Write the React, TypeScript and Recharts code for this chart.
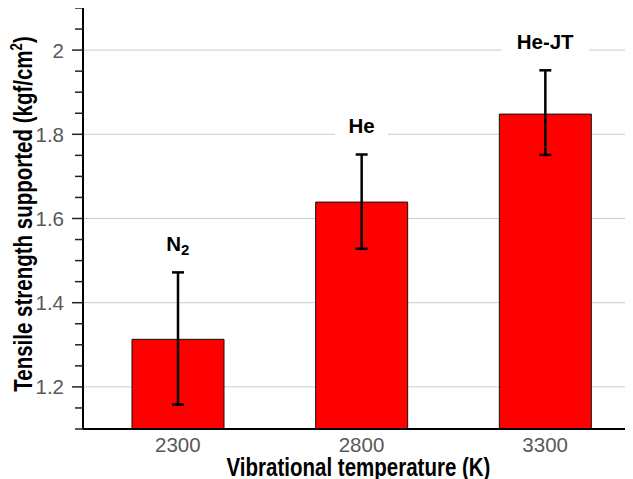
import React from 'react';
import { ComposedChart, Bar, Line, XAxis, YAxis, CartesianGrid, ErrorBar, LabelList, Label } from 'recharts';

const categories = ['2300', '2800', '3300'];
const gases = ['N2', 'He', 'He-JT'];
const strength = [1.313, 1.639, 1.848];
const errLow = [1.158, 1.528, 1.751];
const errHigh = [1.472, 1.752, 1.952];
const yTicks = [1.1, 1.15, 1.2, 1.25, 1.3, 1.35, 1.4, 1.45, 1.5, 1.55, 1.6, 1.65, 1.7, 1.75, 1.8, 1.85, 1.9, 1.95, 2.0, 2.05, 2.1];
const yMajor = [1.2, 1.4, 1.6, 1.8, 2.0];

const data = categories.map((c, i) => ({
  temp: c,
  gas: gases[i],
  value: strength[i],
  err: [strength[i] - errLow[i], errHigh[i] - strength[i]],
  hi: errHigh[i],
}));

const TICK_FONT = "'Liberation Sans', Arial, sans-serif";
const TITLE_FONT = "'Liberation Sans', Arial, sans-serif";
const NARROW = 0.82;

const YTick = (props: any) => {
  const { x, y, payload } = props;
  const v = payload.value;
  const major = yMajor.some((t) => Math.abs(t - v) < 1e-6);
  const len = major ? 11 : 8;
  return (
    <g>
      <line x1={x - len} x2={x} y1={y} y2={y} stroke="#222" strokeWidth={1.5} />
      {major && (
        <text x={x - 19} y={y} dy={7.5} textAnchor="end" fill="#595959" fontSize={20.5} fontFamily={TICK_FONT}>
          {Number(v.toFixed(1)).toString()}
        </text>
      )}
    </g>
  );
};

const XTick = (props: any) => {
  const { x, y, payload } = props;
  return (
    <text x={x} y={y} dy={23} textAnchor="middle" fill="#595959" fontSize={20.5} fontFamily={TICK_FONT}>
      {payload.value}
    </text>
  );
};

const GasLabel = (props: any) => {
  const vb = props.viewBox || {};
  const x = props.x ?? vb.x;
  const y = props.y ?? vb.y;
  const value: string = String(props.value);
  const cy = y - 29;
  const w = 11.5 * value.length + 30;
  const isN2 = value === 'N2';
  return (
    <g>
      <rect x={x - w / 2} y={cy - 14} width={w} height={28} fill="#ffffff" />
      <text x={x} y={cy + 7.3} textAnchor="middle" fontWeight="bold" fontSize={20.5} fontFamily={TICK_FONT} fill="#000">
        {isN2 ? (
          <>
            N<tspan fontSize={15} dy={4}>2</tspan>
          </>
        ) : (
          value
        )}
      </text>
    </g>
  );
};

const XTitle = (props: any) => {
  const vb = props.viewBox;
  const cx = vb.x + vb.width / 2 - 3;
  return (
    <g transform={`translate(${cx}, 468) scale(${NARROW}, 1)`}>
      <text x={0} y={0} textAnchor="middle" fontWeight="bold" fontSize={25} fontFamily={TITLE_FONT} fill="#000">
        Vibrational temperature (K)
      </text>
    </g>
  );
};

const YTitle = () => {
  const x = 24;
  const y = 206;
  return (
    <g transform={`translate(${x}, ${y}) rotate(-90) scale(${NARROW}, 1)`}>
      <text x={0} y={0} textAnchor="middle" fontWeight="bold" fontSize={25} fontFamily={TITLE_FONT} fill="#000">
        Tensile strength supported (kgf/cm<tspan fontSize={16} dy={-10}>2</tspan><tspan dy={10}>)</tspan>
      </text>
    </g>
  );
};

export default function App() {
  return (
    <div style={{ width: 625, height: 471, overflow: 'hidden' }}>
      <ComposedChart width={632} height={471} data={data} margin={{ top: 0, right: 0, bottom: 0, left: 0 }}>
        <CartesianGrid horizontal vertical={false} horizontalValues={yMajor} stroke="#cccccc" strokeWidth={1} />
        <XAxis
          dataKey="temp"
          type="category"
          padding={{ left: 3, right: 3 }}
          height={50}
          axisLine={{ stroke: '#000', strokeWidth: 2 }}
          tickLine={false}
          tickSize={0}
          tickMargin={0}
          tick={<XTick />}
          interval={0}
        >
          <Label content={<XTitle />} />
        </XAxis>
        <YAxis
          type="number"
          domain={[1.1, 2.1]}
          ticks={yTicks}
          interval={0}
          width={75}
          allowDataOverflow
          axisLine={{ stroke: '#000', strokeWidth: 2 }}
          tickLine={false}
          tickSize={0}
          tickMargin={0}
          tick={<YTick />}
        >
          <Label content={<YTitle />} />
        </YAxis>
        <Bar dataKey="value" fill="#ff0000" stroke="#111" strokeWidth={1} barSize={92} isAnimationActive={false}>
          <ErrorBar dataKey="err" width={6} strokeWidth={2.5} stroke="#000" direction="y" />
        </Bar>
        <Line dataKey="hi" stroke="none" dot={false} activeDot={false} isAnimationActive={false}>
          <LabelList dataKey="gas" content={<GasLabel />} />
        </Line>
      </ComposedChart>
    </div>
  );
}
